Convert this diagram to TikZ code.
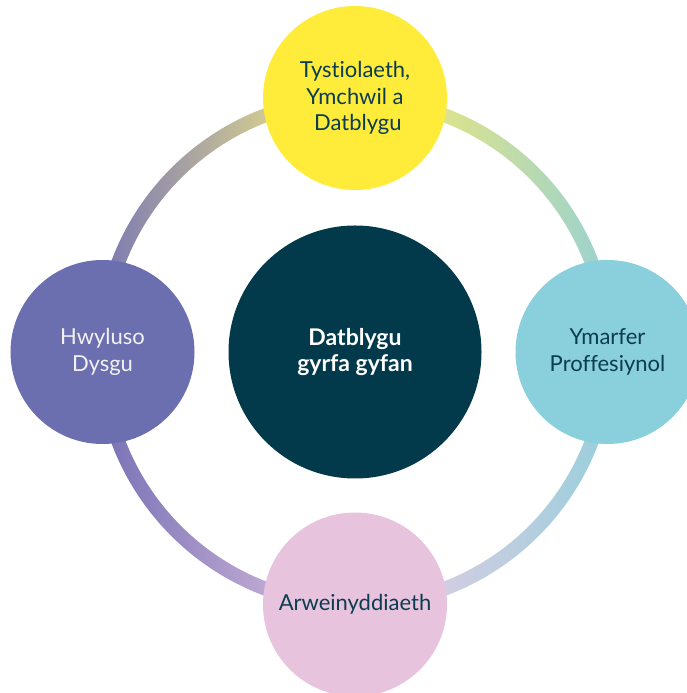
\documentclass[tikz,border=0pt]{standalone}
\usepackage{fontspec}
\setmainfont{Lato}[Ligatures={NoCommon,NoContextual}]
\usetikzlibrary{calc}
\definecolor{cCenter}{HTML}{023A4B}
\definecolor{cTop}{HTML}{FFEC3A}
\definecolor{cRight}{HTML}{89CFDC}
\definecolor{cLeft}{HTML}{6B6FB0}
\definecolor{cBottom}{HTML}{E8C3DE}
\definecolor{cText}{HTML}{0B3C4F}
\definecolor{cLight}{HTML}{F2F2F2}
\definecolor{gTLa}{HTML}{7876B3}
\definecolor{gTLb}{HTML}{FFF482}
\definecolor{gTRa}{HTML}{FFEC69}
\definecolor{gTRb}{HTML}{97D1D3}
\definecolor{gBRa}{HTML}{F0CCE7}
\definecolor{gBRb}{HTML}{97CFDB}
\definecolor{gBLa}{HTML}{7670B5}
\definecolor{gBLb}{HTML}{E1C4E1}
\tikzset{
  bubble/.style={circle, inner sep=0pt, minimum size=184pt, align=center,
    font=\fontsize{22}{26.5}\selectfont, text=cText},
  hub/.style={circle, inner sep=0pt, minimum size=253pt, align=center, fill=cCenter,
    font=\fontsize{23}{26}\selectfont\bfseries, text=white},
}
\newcommand{\ringpart}[4]{%
  \shade[left color=#3, right color=#4]
    ($(hub)+(#1:260)$) arc[start angle=#1, end angle=#2, radius=260]
    -- ($(hub)+(#2:246)$) arc[start angle=#2, end angle=#1, radius=246] -- cycle;}
\begin{document}
\begin{tikzpicture}[x=1pt,y=1pt]
\useasboundingbox (0,0) rectangle (687,693);
\clip (0,0) rectangle (687,693);
\coordinate (hub) at (355,341);
\ringpart{90}{180}{gTLa}{gTLb}
\ringpart{0}{90}{gTRa}{gTRb}
\ringpart{270}{360}{gBRa}{gBRb}
\ringpart{180}{270}{gBLa}{gBLb}
\node[hub] (c) at (hub) {Datblygu\\gyrfa gyfan};
\node[bubble, fill=cTop] (t) at (355,595) {Tystiolaeth,\\Ymchwil a\\\ Datblygu};
\node[bubble, fill=cRight] (r) at (607.5,341) {Ymarfer\\Proffesiynol};
\node[bubble, fill=cLeft, text=cLight] (l) at (102.5,341) {Hwyluso\\Dysgu};
\node[bubble, fill=cBottom] (b) at (355,88.5) {Arweinyddiaeth};
\end{tikzpicture}
\end{document}
